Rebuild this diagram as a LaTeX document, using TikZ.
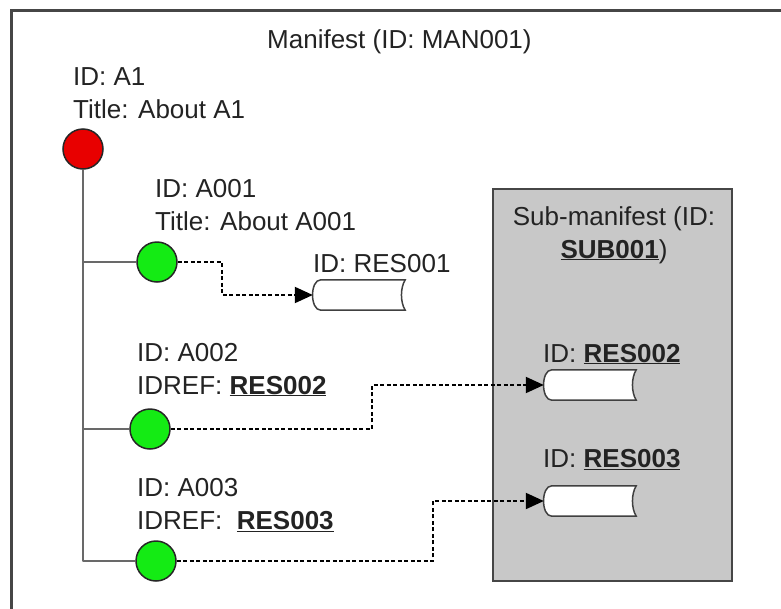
\documentclass[tikz,border=0pt]{standalone}
\usepackage{fontspec}
\setmainfont{Liberation Sans}
\usetikzlibrary{arrows.meta}

\definecolor{framegray}{RGB}{70,70,70}
\definecolor{treegray}{RGB}{105,105,105}
\definecolor{boxgray}{RGB}{200,200,200}
\definecolor{ballred}{RGB}{232,0,0}
\definecolor{ballgreen}{RGB}{20,235,20}
\definecolor{textgray}{RGB}{35,35,35}

\tikzset{
  txt/.style={anchor=base west, inner sep=0pt, align=left, text=textgray},
  ball/.style={circle, draw=black!85, line width=1.5pt, minimum size=40pt, inner sep=0pt},
  treeline/.style={draw=treegray, line width=2.5pt},
  refline/.style={-{Triangle[length=18pt, width=16pt]}, black, line width=2pt, dash pattern=on 4pt off 2.5pt},
  resbox/.style={rectangle, minimum width=92pt, minimum height=30pt, inner sep=0pt},
  resline/.style={draw=black!75, fill=white, line width=1.5pt}
}

\begin{document}
\begin{tikzpicture}[x=1pt, y=-1pt, font=\fontsize{26}{33}\selectfont]

    % Same page size as the reference
    \useasboundingbox (0,0) rectangle (781,608);
    \clip (0,0) rectangle (781,608);

    % Manifest frame (runs off to the right and bottom)
    \draw[framegray, line width=3pt] (11,10) rectangle (800,630);

    % Sub-manifest box
    \draw[fill=boxgray, draw=framegray, line width=2.5pt] (493,189) rectangle (732,581);

    % Titles (multi-line nodes sit on their last baseline)
    \node[txt] (mantitle) at (267,48) {Manifest (ID: MAN001)};
    \node[txt, anchor=base, align=center] (subtitle) at (614,258)
        {Sub-manifest (ID:\\\underline{\textbf{SUB001}})};

    % Items
    \node[ball, fill=ballred] (a1) at (83,149) {};
    \node[ball, fill=ballgreen] (a001) at (157,262) {};
    \node[ball, fill=ballgreen] (a002) at (150,429) {};
    \node[ball, fill=ballgreen] (a003) at (156,561) {};

    % Tree lines
    \draw[treeline, line join=round] (a1) -- (a1 |- a003) -- (a003);
    \foreach \n in {a001,a002} {
        \draw[treeline] (a1 |- \n) -- (\n);
    }

    % Item texts
    \node[txt] (a1txt) at (73,118) {ID: A1\\Title: About A1};
    \node[txt] (a001txt) at (155,230) {ID: A001\\Title: About A001};
    \node[txt] (a002txt) at (137,394) {ID: A002\\IDREF: \underline{\textbf{RES002}}};
    \node[txt] (a003txt) at (137,529) {ID: A003\\IDREF:\ \ \underline{\textbf{RES003}}};

    % Resources
    \node[resbox] (res001) at (359,295) {};
    \node[resbox] (res002) at (590,385) {};
    \node[resbox] (res003) at (590,501) {};
    \foreach \r in {res001,res002,res003} {
        \draw[resline] ([xshift=8pt]\r.north west) -- (\r.north east)
            .. controls ([xshift=-5pt, yshift=-8pt]\r.north east) and ([xshift=-5pt, yshift=8pt]\r.south east) .. (\r.south east)
            -- ([xshift=8pt]\r.south west)
            .. controls ([xshift=-3pt]\r.south west) and ([xshift=-3pt]\r.north west) .. cycle;
    }

    % Resource texts
    \node[txt] (res001txt) at (313,272) {ID: RES001};
    \node[txt] (res002txt) at (543,362) {ID: \underline{\textbf{RES002}}};
    \node[txt] (res003txt) at (543,467) {ID: \underline{\textbf{RES003}}};

    % References
    \draw[refline] (a001) -- ++(65,0) |- (res001);
    \draw[refline] (a002) -- ++(222,0) |- (res002);
    \draw[refline] (a003) -- ++(277,0) |- (res003);

\end{tikzpicture}
\end{document}
